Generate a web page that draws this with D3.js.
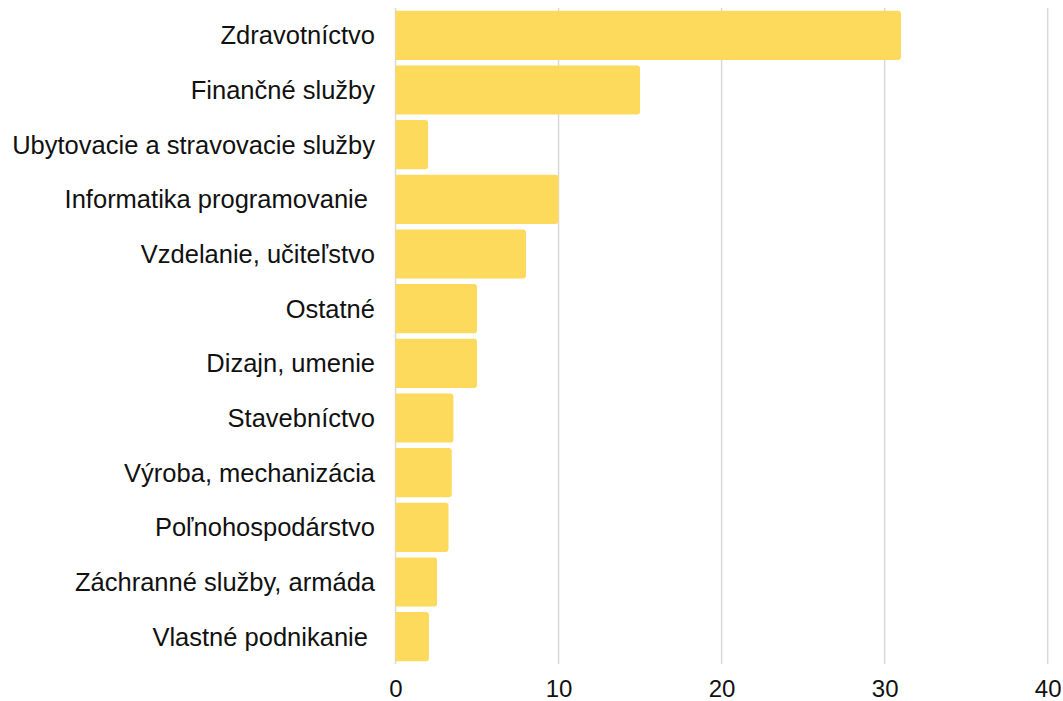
<!DOCTYPE html>
<html><head><meta charset="utf-8">
<script src="https://cdn.jsdelivr.net/npm/d3@7"></script>
<style>body{margin:0;background:#fff}svg text{font-family:"Liberation Sans",Arial,sans-serif;white-space:pre}</style>
</head><body><svg id="c" width="1063" height="701"></svg>
<script>
const categories = ["Zdravotníctvo","Finančné služby","Ubytovacie a stravovacie služby","Informatika programovanie ","Vzdelanie, učiteľstvo","Ostatné","Dizajn, umenie","Stavebníctvo","Výroba, mechanizácia","Poľnohospodárstvo","Záchranné služby, armáda","Vlastné podnikanie "];
const values = [31,15,2,10,8,5,5,3.55,3.45,3.25,2.55,2.05];
const tickValues = [0,10,20,30,40];

const svg = d3.select("#c");
const x = d3.scaleLinear().domain([0,40]).range([395.5,1047.7]);
const y = d3.scaleBand().domain(categories).range([8,664]).paddingInner(0.1).paddingOuter(0.05);

// gridlines
svg.append("g").selectAll("line").data(tickValues).join("line")
  .attr("x1",d=>x(d)).attr("x2",d=>x(d)).attr("y1",8).attr("y2",664)
  .attr("stroke","#d9d9d9").attr("stroke-width",1.5);

// bars with rounded right corners
const r = 3;
svg.append("g").selectAll("path").data(categories).join("path")
  .attr("fill","#fdda5b")
  .attr("d",(c,i)=>{
    const x0=x(0), x1=x(values[i]), y0=y(c), h=y.bandwidth();
    return `M${x0},${y0}H${x1-r}Q${x1},${y0} ${x1},${y0+r}V${y0+h-r}Q${x1},${y0+h} ${x1-r},${y0+h}H${x0}Z`;
  });

// category labels
svg.append("g").selectAll("text").data(categories).join("text")
  .attr("x",375).attr("y",c=>y(c)+y.bandwidth()/2).attr("dy","0.35em")
  .attr("text-anchor","end").attr("font-size",25.5).attr("fill","#111")
  .text(d=>d);

// x axis tick labels
const ax = d3.axisBottom(x).tickValues(tickValues).tickSize(0).tickPadding(0);
const g = svg.append("g").attr("transform","translate(0,680)").call(ax);
g.select(".domain").remove();
g.selectAll("text").attr("font-size",24).attr("fill","#111").attr("dy","0.72em")
  .style("font-family","'Liberation Sans',Arial,sans-serif");
</script></body></html>
